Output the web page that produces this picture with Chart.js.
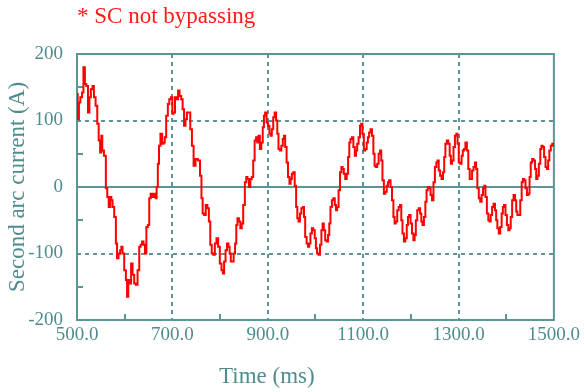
<!DOCTYPE html>
<html>
<head>
<meta charset="utf-8">
<script src="https://cdn.jsdelivr.net/npm/chart.js@4.4.1/dist/chart.umd.min.js"></script>
<style>
  html, body { margin: 0; padding: 0; background: #ffffff; }
  #wrap { width: 584px; height: 392px; }
</style>
</head>
<body>
<div id="wrap"><canvas id="c" width="584" height="392"></canvas></div>
<script>
// Sampled arc current of the second arc (time in ms, current in A)
const timeMs = [
  500, 503, 505, 509, 512, 515, 518, 521, 525, 527, 531, 534, 537, 541, 544, 547, 550, 552, 554, 559,
  562, 565, 568, 571, 573, 576, 580, 583, 585, 589, 592, 594, 597, 601, 604, 606, 609, 612, 615, 618,
  622, 625, 629, 632, 635, 638, 641, 644, 647, 650, 653, 656, 660, 664, 666, 668, 671, 673, 677, 680,
  683, 685, 689, 692, 695, 699, 701, 704, 707, 711, 713, 717, 720, 723, 726, 729, 732, 736, 739, 743,
  746, 751, 756, 760, 762, 765, 768, 772, 775, 778, 781, 784, 787, 791, 794, 798, 801, 805, 807, 810,
  813, 816, 819, 821, 824, 827, 830, 833, 835, 838, 841, 844, 847, 850, 854, 856, 859, 862, 865, 868,
  871, 874, 877, 879, 882, 885, 888, 891, 893, 896, 899, 902, 905, 907, 910, 913, 916, 919, 921, 924,
  927, 930, 933, 935, 938, 941, 944, 947, 949, 952, 955, 958, 961, 963, 966, 969, 972, 975, 977, 980,
  983, 986, 988, 991, 994, 997, 1000, 1002, 1005, 1008, 1011, 1014, 1016, 1019, 1022, 1025, 1028, 1030, 1033, 1036,
  1039, 1042, 1044, 1047, 1050, 1053, 1056, 1058, 1061, 1064, 1067, 1070, 1072, 1075, 1078, 1081, 1084, 1086, 1089, 1092,
  1095, 1097, 1100, 1103, 1106, 1109, 1111, 1114, 1117, 1120, 1123, 1125, 1128, 1131, 1134, 1137, 1139, 1142, 1145, 1148,
  1151, 1153, 1156, 1159, 1162, 1165, 1167, 1170, 1173, 1176, 1179, 1181, 1184, 1187, 1190, 1193, 1195, 1198, 1201, 1204,
  1207, 1209, 1212, 1215, 1218, 1221, 1223, 1226, 1229, 1232, 1234, 1237, 1240, 1243, 1246, 1249, 1252, 1255, 1257, 1260,
  1263, 1266, 1269, 1271, 1274, 1277, 1280, 1283, 1285, 1288, 1291, 1294, 1297, 1299, 1302, 1305, 1308, 1310, 1313, 1316,
  1319, 1322, 1325, 1327, 1330, 1333, 1336, 1338, 1341, 1344, 1347, 1350, 1353, 1355, 1358, 1361, 1364, 1366, 1369, 1372,
  1375, 1378, 1380, 1383, 1386, 1389, 1392, 1394, 1397, 1400, 1403, 1406, 1408, 1411, 1414, 1417, 1420, 1422, 1425, 1428,
  1431, 1434, 1436, 1439, 1442, 1445, 1448, 1450, 1453, 1456, 1459, 1462, 1464, 1467, 1470, 1473, 1475, 1478, 1481, 1484,
  1487, 1489, 1492, 1495, 1498, 1500
];
const currentA = [
  140, 102, 127, 135, 142, 180, 155, 152, 112, 135, 147, 152, 135, 122, 95, 70, 52, 77, 55, 47,
  -2, -15, -30, -15, -20, -30, -45, -85, -107, -100, -95, -90, -100, -125, -140, -165, -140, -145, -115, -132,
  -145, -147, -125, -90, -87, -82, -87, -100, -60, -57, -17, -10, -15, -10, -17, 0, 35, 62, 80, 65,
  67, 75, 107, 125, 132, 135, 110, 112, 135, 132, 145, 137, 132, 117, 92, 102, 112, 112, 87, 62,
  32, 42, 40, 17, -17, -40, -42, -27, -32, -52, -87, -100, -102, -85, -77, -90, -115, -125, -130, -112,
  -95, -85, -90, -100, -112, -112, -100, -85, -57, -47, -52, -62, -55, -27, 7, 15, 12, 0, 12, 15,
  40, 70, 75, 67, 77, 57, 67, 90, 107, 112, 97, 92, 80, 77, 87, 105, 112, 100, 80, 57,
  55, 62, 72, 77, 60, 37, 15, 5, 12, 20, 22, 2, -30, -47, -52, -40, -32, -30, -45, -75,
  -85, -90, -85, -70, -62, -65, -77, -92, -100, -102, -87, -65, -55, -65, -80, -82, -72, -55, -30, -20,
  -17, -27, -35, -30, -5, 22, 30, 27, 20, 12, 20, 45, 67, 72, 75, 60, 47, 55, 65, 75,
  92, 95, 80, 55, 57, 67, 75, 82, 87, 77, 50, 32, 30, 35, 50, 55, 40, 10, -10, -7,
  2, 7, 10, 0, -20, -45, -55, -52, -35, -30, -27, -50, -70, -82, -77, -57, -45, -42, -55, -70,
  -80, -72, -50, -35, -32, -40, -52, -57, -45, -22, -5, 0, -2, -12, -20, 7, 30, 37, 40, 25,
  17, 12, 22, 45, 65, 70, 65, 47, 35, 40, 60, 77, 80, 65, 37, 35, 47, 55, 57, 67,
  55, 27, 12, 12, 25, 30, 37, 27, -2, -17, -22, -12, -2, 2, -15, -40, -50, -52, -42, -30,
  -25, -35, -50, -62, -70, -60, -40, -30, -27, -42, -57, -65, -62, -45, -20, -12, -20, -37, -42, -42,
  -20, 7, 12, 10, -2, -12, -10, 15, 37, 42, 40, 27, 12, 17, 35, 57, 62, 60, 45, 30,
  27, 40, 55, 62, 65, 62
];

// Axis ticks
const xLabelTicks = [500, 700, 900, 1100, 1300, 1500];
const xGridTicks = [700, 900, 1100, 1300];
const xMinorTicks = [600, 800, 1000, 1200, 1400];
const yLabelTicks = [-200, -100, 0, 100, 200];
const yGridTicks = [-100, 100];
const yMinorTicks = [-150, -50, 50, 150];

// Texts
const noteText = '* SC not bypassing';
const xTitleText = 'Time (ms)';
const yTitleText = 'Second arc current (A)';

const TEAL = '#5a9696';
const TEAL_TEXT = '#4f8d8d';
const SERIF = '"Liberation Serif", "DejaVu Serif", serif';

// Frame, dashed grid, zero line, inward minor ticks, note and time title
const framePlugin = {
  id: 'frame',
  beforeDatasetsDraw(chart) {
    const { ctx, chartArea: a, scales: { x, y } } = chart;
    ctx.save();
    ctx.strokeStyle = TEAL;
    ctx.lineWidth = 2;
    ctx.setLineDash([4, 4]);
    ctx.beginPath();
    xGridTicks.forEach(v => {
      const px = Math.round(x.getPixelForValue(v));
      ctx.moveTo(px, a.top); ctx.lineTo(px, a.bottom);
    });
    yGridTicks.forEach(v => {
      const py = Math.round(y.getPixelForValue(v));
      ctx.moveTo(a.left, py); ctx.lineTo(a.right, py);
    });
    ctx.stroke();
    ctx.setLineDash([]);
    ctx.beginPath();
    const y0 = Math.round(y.getPixelForValue(0));
    ctx.moveTo(a.left, y0); ctx.lineTo(a.right, y0);
    xMinorTicks.forEach(v => {
      const px = Math.round(x.getPixelForValue(v));
      ctx.moveTo(px, a.bottom); ctx.lineTo(px, a.bottom - 6);
    });
    yMinorTicks.forEach(v => {
      const py = Math.round(y.getPixelForValue(v));
      ctx.moveTo(a.left, py); ctx.lineTo(a.left + 6, py);
    });
    ctx.stroke();
    ctx.strokeRect(a.left, a.top, a.right - a.left, a.bottom - a.top);
    ctx.restore();
  },
  afterDraw(chart) {
    const { ctx } = chart;
    ctx.save();
    ctx.textBaseline = 'middle';
    ctx.textAlign = 'left';
    ctx.fillStyle = '#ff1a1a';
    ctx.font = '23px ' + SERIF;
    ctx.fillText(noteText, 77, 17);
    ctx.fillStyle = TEAL_TEXT;
    ctx.font = '23px ' + SERIF;
    ctx.fillText(xTitleText, 219, 377);
    ctx.restore();
  }
};

new Chart(document.getElementById('c'), {
  type: 'line',
  data: {
    datasets: [{
      data: timeMs.map((t, i) => ({ x: t, y: currentA[i] })),
      borderColor: '#ff0000',
      borderWidth: 2,
      pointRadius: 0,
      stepped: 'middle',
      fill: false
    }]
  },
  options: {
    responsive: false,
    animation: false,
    devicePixelRatio: 1,
    layout: { padding: { top: 54, right: 30, bottom: 0, left: 0 } },
    plugins: { legend: { display: false }, tooltip: { enabled: false }, title: { display: false } },
    scales: {
      x: {
        type: 'linear', min: 500, max: 1500,
        afterBuildTicks: s => { s.ticks = xLabelTicks.map(v => ({ value: v })); },
        afterFit: s => { s.height = 72; },
        grid: { display: false, drawTicks: false },
        border: { display: false },
        ticks: {
          callback: v => Number(v).toFixed(1),
          color: TEAL_TEXT, font: { family: SERIF, size: 19 },
          padding: 4, maxRotation: 0, autoSkip: false
        },
        title: { display: false }
      },
      y: {
        type: 'linear', min: -200, max: 200,
        afterBuildTicks: s => { s.ticks = yLabelTicks.map(v => ({ value: v })); },
        afterFit: s => { s.width = 77; },
        grid: { display: false, drawTicks: false },
        border: { display: false },
        ticks: {
          callback: v => String(v),
          color: TEAL_TEXT, font: { family: SERIF, size: 19 },
          padding: 14, autoSkip: false
        },
        title: {
          display: true, text: yTitleText, color: TEAL_TEXT,
          font: { family: SERIF, size: 23 }, padding: { top: 4, bottom: 0 }
        }
      }
    }
  },
  plugins: [framePlugin]
});
</script>
</body>
</html>
